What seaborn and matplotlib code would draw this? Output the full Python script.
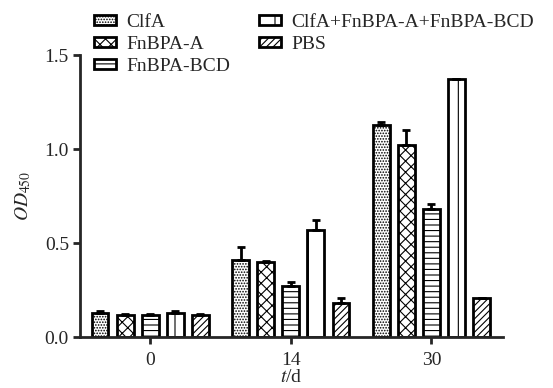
import numpy as np
import pandas as pd
import matplotlib
matplotlib.use("Agg")
import matplotlib.pyplot as plt
import seaborn as sns

# ---------------- data ----------------
days = ["0", "14", "30"]
groups = ["ClfA", "FnBPA-A", "FnBPA-BCD", "ClfA+FnBPA-A+FnBPA-BCD", "PBS"]

clfa = [0.13, 0.41, 1.13]
fnbpa_a = [0.115, 0.40, 1.02]
fnbpa_bcd = [0.115, 0.27, 0.68]
combo = [0.13, 0.57, 1.37]
pbs = [0.115, 0.18, 0.205]

clfa_err = [0.01, 0.07, 0.012]
fnbpa_a_err = [0.005, 0.005, 0.08]
fnbpa_bcd_err = [0.005, 0.02, 0.025]
combo_err = [0.01, 0.05, 0.005]
pbs_err = [0.005, 0.025, 0.005]

values = [clfa, fnbpa_a, fnbpa_bcd, combo, pbs]
errors = [clfa_err, fnbpa_a_err, fnbpa_bcd_err, combo_err, pbs_err]
hatches = ["......", "xxx", "---", "|", "/////"]

df = pd.DataFrame({
    "day": np.tile(days, len(groups)),
    "group": np.repeat(groups, len(days)),
    "od": np.concatenate(values),
})

# ---------------- style ----------------
sns.set_style("ticks")
plt.rcParams["font.family"] = ["Liberation Serif", "DejaVu Serif"]
plt.rcParams["mathtext.fontset"] = "stix"
plt.rcParams["hatch.linewidth"] = 0.8

fig = plt.figure(figsize=(5.53, 3.88), dpi=100)
ax = fig.add_axes([80 / 553, 51 / 388, 423 / 553, 282 / 388])

sns.barplot(data=df, x="day", y="od", hue="group", order=days, hue_order=groups,
            errorbar=None, width=0.893, gap=0.33,
            palette=["white"] * 5, edgecolor="black", linewidth=2, ax=ax,
            legend=False)

bar_containers = list(ax.containers)
for cont, h, err in zip(bar_containers, hatches, errors):
    xs, ys = [], []
    for bar in cont.patches:
        bar.set_hatch(h)
        bar.set_facecolor("white")
        bar.set_edgecolor("black")
        xs.append(bar.get_x() + bar.get_width() / 2)
        ys.append(bar.get_height())
    ax.errorbar(xs, ys, yerr=[np.zeros(len(err)), err], fmt="none",
                ecolor="black", elinewidth=2, capsize=3, capthick=2, zorder=1)

handles = [c.patches[0] for c in bar_containers]
fig.legend(handles, groups, loc="upper left", bbox_to_anchor=(94 / 553, 1 - 14 / 388),
           ncol=2, frameon=False, fontsize=14, handlelength=1.15,
           handleheight=0.45, handletextpad=0.5, labelspacing=0.25,
           columnspacing=1.5, borderpad=0, borderaxespad=0)

ax.set_ylim(0, 1.5)
ax.set_yticks([0.0, 0.5, 1.0, 1.5])
ax.set_yticklabels(["0.0", "0.5", "1.0", "1.5"])
ax.set_xlim(-0.5, 2.51)
ax.set_xlabel(r"$t$/d", fontsize=14, labelpad=0)
ax.set_ylabel(r"$\mathit{OD}_{450}$", fontsize=14, labelpad=8)
ax.tick_params(labelsize=14, width=2, length=5, pad=3)
ax.tick_params(axis="x", pad=6)
sns.despine(ax=ax)
for s in ["left", "bottom"]:
    ax.spines[s].set_linewidth(2)

fig.savefig("out.png", dpi=100)
